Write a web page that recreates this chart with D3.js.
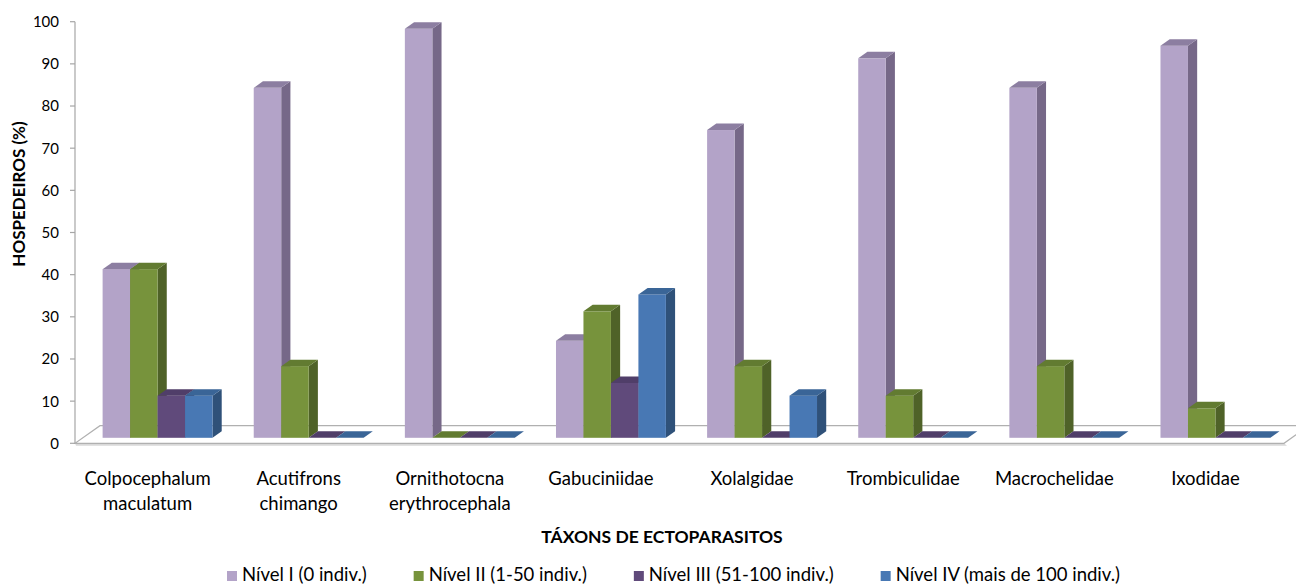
<!DOCTYPE html>
<html>
<head>
<meta charset="utf-8">
<script src="https://cdn.jsdelivr.net/npm/d3@7"></script>
<style>
  html, body { margin: 0; padding: 0; background: #fff; }
  svg { display: block; font-family: Lato, "Open Sans", sans-serif; }
</style>
</head>
<body>
<svg id="chart" width="1296" height="586"></svg>
<script>
// Hosts (%) per infestation level for each ectoparasite taxon
const categories = [
  "Colpocephalum maculatum",
  "Acutifrons chimango",
  "Ornithotocna erythrocephala",
  "Gabuciniidae",
  "Xolalgidae",
  "Trombiculidae",
  "Macrochelidae",
  "Ixodidae"
];
const categoryLines = [
  ["Colpocephalum", "maculatum"],
  ["Acutifrons", "chimango"],
  ["Ornithotocna", "erythrocephala"],
  ["Gabuciniidae"],
  ["Xolalgidae"],
  ["Trombiculidae"],
  ["Macrochelidae"],
  ["Ixodidae"]
];
const seriesNames = [
  "Nível I (0 indiv.)",
  "Nível II (1-50 indiv.)",
  "Nível III (51-100 indiv.)",
  "Nível IV (mais de 100 indiv.)"
];
const nivelI   = [40, 83, 97, 23, 73, 90, 83, 93];
const nivelII  = [40, 17,  0, 30, 17, 10, 17,  7];
const nivelIII = [10,  0,  0, 13,  0,  0,  0,  0];
const nivelIV  = [10,  0,  0, 34, 10,  0,  0,  0];
const yTicks = [0, 10, 20, 30, 40, 50, 60, 70, 80, 90, 100];

const seriesValues = [nivelI, nivelII, nivelIII, nivelIV];

// face colours: front, side, top
const palette = [
  { front: "#b3a3c8", side: "#766888", top: "#8c7ea1" },
  { front: "#77933c", side: "#4f6228", top: "#627b31" },
  { front: "#604a7b", side: "#433459", top: "#503e69" },
  { front: "#4878b4", side: "#2f5179", top: "#3a6597" }
];

const svg = d3.select("#chart");

const y = d3.scaleLinear().domain([0, 100]).range([443.3, 21.7]);

const x0 = d3.scaleBand()
  .domain(categories)
  .range([75, 1284])
  .paddingInner(1.5 / 5.5)
  .paddingOuter(0.75 / 5.5);

const x1 = d3.scaleBand()
  .domain(seriesNames)
  .range([0, x0.bandwidth()]);

// oblique projection of depth
const floorDX = 25, floorDY = 17.6;     // full floor depth
const barOffX = 7, barOffY = 5.5;       // bars set back from the front edge
const barDX = 9.2, barDY = 6.5;         // bar depth

// floor slab
const fx0 = 75, fx1 = 1284, fy = y(0);
svg.append("polygon")
  .attr("points", [[fx0, fy], [fx1, fy], [fx1 + 3, fy + 2.5], [fx0 + 1, fy + 2.5]].join(" "))
  .attr("fill", "#d9d9d9");
svg.append("polygon")
  .attr("points", [[fx0, fy], [fx1, fy], [fx1 + floorDX, fy - floorDY], [fx0 + floorDX, fy - floorDY]].join(" "))
  .attr("fill", "#ffffff")
  .attr("stroke", "#b0b0b0")
  .attr("stroke-width", 1.2);

// value axis
const axisG = svg.append("g");
axisG.append("line")
  .attr("x1", 75).attr("x2", 75)
  .attr("y1", y(100)).attr("y2", y(0))
  .attr("stroke", "#a6a6a6").attr("stroke-width", 1.2);
axisG.selectAll("line.tick").data(yTicks).join("line")
  .attr("class", "tick")
  .attr("x1", 70).attr("x2", 75)
  .attr("y1", d => y(d)).attr("y2", d => y(d))
  .attr("stroke", "#a6a6a6").attr("stroke-width", 1.2);
axisG.selectAll("text").data(yTicks).join("text")
  .attr("x", 59)
  .attr("y", d => y(d))
  .attr("dy", "0.36em")
  .attr("text-anchor", "end")
  .attr("font-size", 15)
  .attr("fill", "#000")
  .text(d => d);

// bars, drawn group by group and left to right so each bar hides the previous one's side
const barsG = svg.append("g");
categories.forEach((cat, ci) => {
  seriesNames.forEach((s, si) => {
    const v = seriesValues[si][ci];
    const c = palette[si];
    const bx = x0(cat) + x1(s) + barOffX;
    const bw = x1.bandwidth();
    const yb = y(0) - barOffY;
    const yt = y(v) - barOffY;
    const g = barsG.append("g");
    if (v > 0) {
      g.append("polygon")
        .attr("points", [[bx + bw, yt], [bx + bw + barDX, yt - barDY], [bx + bw + barDX, yb - barDY], [bx + bw, yb]].join(" "))
        .attr("fill", c.side);
      g.append("rect")
        .attr("x", bx).attr("y", yt)
        .attr("width", bw).attr("height", yb - yt)
        .attr("fill", c.front);
    }
    g.append("polygon")
      .attr("points", [[bx, yt], [bx + barDX, yt - barDY], [bx + bw + barDX, yt - barDY], [bx + bw, yt]].join(" "))
      .attr("fill", c.top);
  });
});

// category labels
const catG = svg.append("g");
categories.forEach((cat, ci) => {
  const cx = x0(cat) + x0.bandwidth() / 2 - 3;
  const t = catG.append("text")
    .attr("x", cx)
    .attr("y", 485)
    .attr("text-anchor", "middle")
    .attr("font-size", 18.5)
    .attr("fill", "#000");
  categoryLines[ci].forEach((line, li) => {
    t.append("tspan")
      .attr("x", cx)
      .attr("dy", li === 0 ? 0 : 25)
      .text(line);
  });
});

// axis titles
svg.append("text")
  .attr("transform", "translate(25,194) rotate(-90)")
  .attr("text-anchor", "middle")
  .attr("font-size", 17)
  .attr("font-weight", "bold")
  .attr("fill", "#000")
  .text("HOSPEDEIROS (%)");

svg.append("text")
  .attr("x", 662).attr("y", 543)
  .attr("text-anchor", "middle")
  .attr("font-size", 17.5)
  .attr("font-weight", "bold")
  .attr("fill", "#000")
  .text("TÁXONS DE ECTOPARASITOS");

// legend: items laid out in a row, evenly spaced between its two ends
const legendLeft = 227, legendRight = 1120, swatch = 10, swatchPad = 5;
const legend = svg.append("g");
const items = seriesNames.map((s, si) => {
  const g = legend.append("g");
  g.append("rect")
    .attr("y", 571)
    .attr("width", swatch).attr("height", swatch)
    .attr("fill", palette[si].front);
  const t = g.append("text")
    .attr("x", swatch + swatchPad).attr("y", 581)
    .attr("font-size", 18.5)
    .attr("fill", "#000")
    .text(s);
  return { g, w: swatch + swatchPad + t.node().getComputedTextLength() };
});
const totalW = d3.sum(items, d => d.w);
const gap = (legendRight - legendLeft - totalW) / (items.length - 1);
let lx = legendLeft;
items.forEach(it => {
  it.g.attr("transform", `translate(${lx},0)`);
  lx += it.w + gap;
});
</script>
</body>
</html>
